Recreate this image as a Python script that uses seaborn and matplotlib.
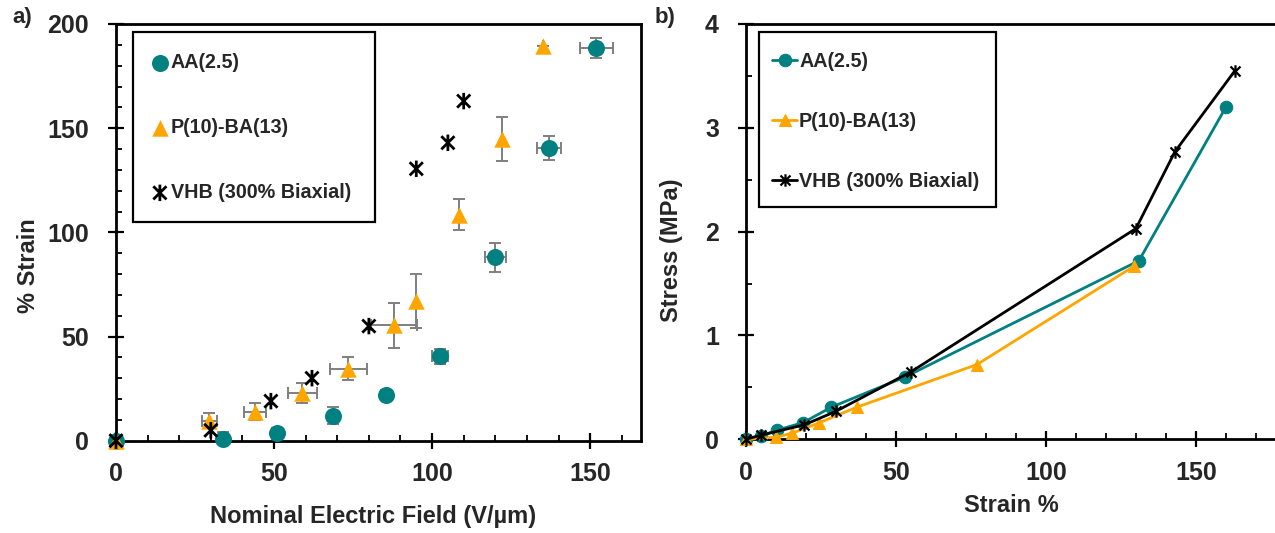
import matplotlib
matplotlib.use("Agg")
import matplotlib.pyplot as plt
from matplotlib.path import Path
from matplotlib.patches import Rectangle
from matplotlib.ticker import MultipleLocator
import seaborn as sns
import numpy as np

# ---------------- data ----------------
# panel a) % strain vs nominal electric field
ef_aa = [0, 34, 51, 68.5, 85.5, 102.5, 120, 137, 152]
strain_aa = [0, 1, 3.5, 12, 22, 40.5, 88, 140.5, 188.5]
xerr_aa = [0, 0, 0, 0, 1.6, 2.6, 3.3, 3.8, 5.1]
yerr_aa = [0, 3, 2.5, 4, 1.5, 3.5, 7, 5.8, 4.7]

ef_pba = [0, 29.5, 44, 59, 73.5, 88, 95, 108.5, 122, 135]
strain_pba = [0, 9.5, 14, 23, 34.5, 55.5, 67, 108.5, 145, 189.5]
xerr_pba = [0, 2.4, 3.5, 4.7, 5.9, 7.3, 0, 0, 0, 0]
yerr_pba = [0, 3.6, 4, 4.8, 5.5, 10.8, 13, 7.5, 10.6, 0]

ef_vhb = [0, 30, 49, 62, 80, 95, 105, 110]
strain_vhb = [0, 5, 19, 30, 55, 130.5, 143, 163]

# panel b) stress vs strain
st_aa = [0, 5, 10.5, 19, 28.5, 53, 131, 160]
ss_aa = [0, 0.03, 0.09, 0.16, 0.31, 0.60, 1.72, 3.2]
st_pba = [0, 10, 15.5, 24.5, 37, 77, 129.5]
ss_pba = [0, 0.02, 0.06, 0.16, 0.31, 0.72, 1.67]
st_vhb = [0, 5, 19.5, 30, 55, 130, 143, 163]
ss_vhb = [0, 0.04, 0.14, 0.27, 0.65, 2.03, 2.77, 3.55]

labels = ["AA(2.5)", "P(10)-BA(13)", "VHB (300% Biaxial)"]
TEAL = "#008080"
ORANGE = "#FFA500"
BLACK = "#000000"
ERR = "#7f7f7f"

# ---------------- style ----------------
sns.set_style("ticks")
plt.rcParams["font.family"] = ["Liberation Sans", "DejaVu Sans"]
plt.rcParams["font.weight"] = "bold"

ast = Path([(-1, -1), (1, 1), (-1, 1), (1, -1), (0, -1.25), (0, 1.25)],
           [Path.MOVETO, Path.LINETO, Path.MOVETO, Path.LINETO, Path.MOVETO, Path.LINETO])

fig = plt.figure(figsize=(12.75, 5.33), dpi=100)
W, H = 1275, 533
axA = fig.add_axes([116 / W, (H - 440.7) / H, (640.7 - 116) / W, (440.7 - 24) / H])
axB = fig.add_axes([746 / W, (H - 439.3) / H, (1276 - 746) / W, (439.3 - 24) / H])


def style_axis(ax):
    for s in ax.spines.values():
        s.set_linewidth(2.0)
        s.set_color("black")
    ax.tick_params(which="major", direction="inout", length=11, width=1.6,
                   labelsize=18, color="black")
    ax.tick_params(which="minor", direction="in", length=4, width=1.3, color="black")
    for lab in ax.get_xticklabels() + ax.get_yticklabels():
        lab.set_fontweight("bold")


# ---------------- panel a ----------------
axA.errorbar(ef_aa, strain_aa, xerr=xerr_aa, yerr=yerr_aa, fmt="none",
             ecolor=ERR, elinewidth=1.4, capsize=4, capthick=1.4, zorder=2)
axA.errorbar(ef_pba, strain_pba, xerr=xerr_pba, yerr=yerr_pba, fmt="none",
             ecolor=ERR, elinewidth=1.4, capsize=4, capthick=1.4, zorder=2)
sns.scatterplot(x=ef_aa, y=strain_aa, ax=axA, marker="o", color=TEAL, s=150,
                edgecolor=TEAL, linewidth=0, label=labels[0], zorder=3, clip_on=False)
sns.scatterplot(x=ef_pba, y=strain_pba, ax=axA, marker="^", color=ORANGE, s=140,
                edgecolor=ORANGE, linewidth=0, label=labels[1], zorder=3, clip_on=False)
sns.scatterplot(x=ef_vhb, y=strain_vhb, ax=axA, marker=ast, color=BLACK, s=140,
                facecolor="none", edgecolor=BLACK, linewidth=2.0, label=labels[2],
                zorder=4, clip_on=False)
axA.set_xlim(0, 166)
axA.set_ylim(0, 200)
axA.xaxis.set_major_locator(MultipleLocator(50))
axA.xaxis.set_minor_locator(MultipleLocator(10))
axA.yaxis.set_major_locator(MultipleLocator(50))
axA.yaxis.set_minor_locator(MultipleLocator(10))
axA.set_xlabel("Nominal Electric Field (V/µm)", fontsize=17, fontweight="bold")
axA.set_ylabel("% Strain", fontsize=17, fontweight="bold")
axA.xaxis.set_label_coords(0.489, -0.155)
axA.yaxis.set_label_coords(-0.145, 0.419)
style_axis(axA)
axA.tick_params(axis="x", pad=10)
axA.tick_params(axis="y", pad=14)

legA = axA.legend(loc="upper left", bbox_to_anchor=((152 - 116) / 524.7, (440.7 - 53.5) / 416.7),
                  frameon=False, labelspacing=2.32, borderpad=0,
                  handlelength=0.8, handletextpad=0.15, borderaxespad=0,
                  prop={"weight": "bold", "size": 14.2})
axA.add_patch(Rectangle(((132.7 - 116) / 524.7, (440.7 - 222.3) / 416.7),
                        (375.3 - 132.7) / 524.7, (222.3 - 31.7) / 416.7,
                        transform=axA.transAxes, fill=False, edgecolor="black",
                        linewidth=1.6, zorder=5))

# ---------------- panel b ----------------
sns.lineplot(x=st_aa, y=ss_aa, ax=axB, color=TEAL, marker="o", markersize=9,
             markeredgecolor=TEAL, linewidth=2, label=labels[0], sort=False,
             estimator=None, zorder=3)
sns.lineplot(x=st_pba, y=ss_pba, ax=axB, color=ORANGE, marker="^", markersize=9,
             markeredgecolor=ORANGE, linewidth=2, label=labels[1], sort=False,
             estimator=None, zorder=3)
sns.lineplot(x=st_vhb, y=ss_vhb, ax=axB, color=BLACK, marker=ast, markersize=9,
             markeredgecolor=BLACK, markerfacecolor="none", markeredgewidth=1.6,
             linewidth=2, label=labels[2], sort=False, estimator=None, zorder=4)
axB.set_xlim(0, 176.7)
axB.set_ylim(0, 4)
axB.xaxis.set_major_locator(MultipleLocator(50))
axB.xaxis.set_minor_locator(MultipleLocator(10))
axB.yaxis.set_major_locator(MultipleLocator(1))
axB.yaxis.set_minor_locator(MultipleLocator(0.5))
axB.set_xlabel("Strain %", fontsize=17, fontweight="bold")
axB.set_ylabel("Stress (MPa)", fontsize=17, fontweight="bold")
axB.xaxis.set_label_coords(0.501, -0.132)
axB.yaxis.set_label_coords(-0.119, 0.456)
style_axis(axB)
axB.tick_params(axis="x", pad=10)
axB.tick_params(axis="y", pad=14)
for ln in axB.lines:
    ln.set_clip_on(False)

legB = axB.legend(loc="upper left", bbox_to_anchor=((772 - 746) / 529, (439.3 - 52.0) / 415.3),
                  frameon=False, labelspacing=2.07, borderpad=0,
                  handlelength=1.27, handletextpad=0.1, borderaxespad=0,
                  prop={"weight": "bold", "size": 14.2})
axB.add_patch(Rectangle(((759.3 - 746) / 529, (439.3 - 207.3) / 415.3),
                        (996 - 759.3) / 529, (207.3 - 31.7) / 415.3,
                        transform=axB.transAxes, fill=False, edgecolor="black",
                        linewidth=1.6, zorder=5))

fig.text(12 / W, 1 - 18 / H, "a)", fontsize=16, fontweight="bold", va="center", ha="left")
fig.text(655 / W, 1 - 17 / H, "b)", fontsize=16, fontweight="bold", va="center", ha="left")

fig.savefig("out.png", dpi=100)
